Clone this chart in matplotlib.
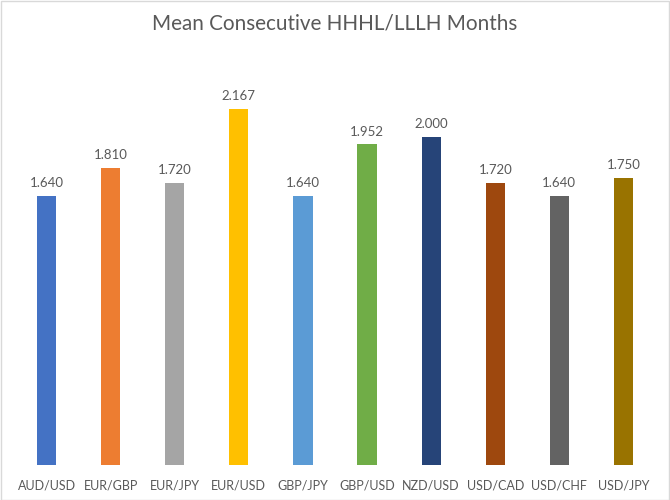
import matplotlib
matplotlib.use("Agg")
import matplotlib.pyplot as plt
from matplotlib.patches import Rectangle

categories = ["AUD/USD", "EUR/GBP", "EUR/JPY", "EUR/USD", "GBP/JPY",
              "GBP/USD", "NZD/USD", "USD/CAD", "USD/CHF", "USD/JPY"]
values = [1.640, 1.810, 1.720, 2.167, 1.640, 1.952, 2.000, 1.720, 1.640, 1.750]
colors = ["#4472C4", "#ED7D31", "#A5A5A5", "#FFC000", "#5B9BD5",
          "#70AD47", "#264478", "#9E480E", "#636363", "#997300"]
title = "Mean Consecutive HHHL/LLLH Months"

plt.rcParams["font.family"] = ["Lato", "DejaVu Sans"]
text_color = "#595959"

W, H = 670, 500
fig = plt.figure(figsize=(W / 100, H / 100), dpi=100)
fig.patches.append(Rectangle((0.5 / W, 0.5 / H), 1 - 1.5 / W, 1 - 1.5 / H,
                             transform=fig.transFigure, fill=False,
                             edgecolor="#D9D9D9", linewidth=1.0))

left, right = 14.5, 655.5
top, bottom = 54.5, 465
ax = fig.add_axes([left / W, 1 - bottom / H, (right - left) / W, (bottom - top) / H])
x = list(range(len(categories)))
bars = ax.bar(x, values, width=0.3, color=colors)
ax.set_xlim(-0.5, len(categories) - 0.5)
ax.set_ylim(0, 2.5)
for xi, v in zip(x, values):
    ax.annotate(f"{v:.3f}", (xi, v), xytext=(0, 5), textcoords="offset points",
                ha="center", va="bottom", fontsize=9.5, color=text_color)
ax.set_xticks(x)
ax.set_xticklabels(categories, fontsize=9, color=text_color)
ax.tick_params(axis="x", length=0, pad=10.5)
ax.set_yticks([])
for s in ax.spines.values():
    s.set_visible(False)

fig.text(0.5, 1 - 24 / H, title, ha="center", va="center", fontsize=14.9, color=text_color)

fig.savefig("out.png", dpi=100)
